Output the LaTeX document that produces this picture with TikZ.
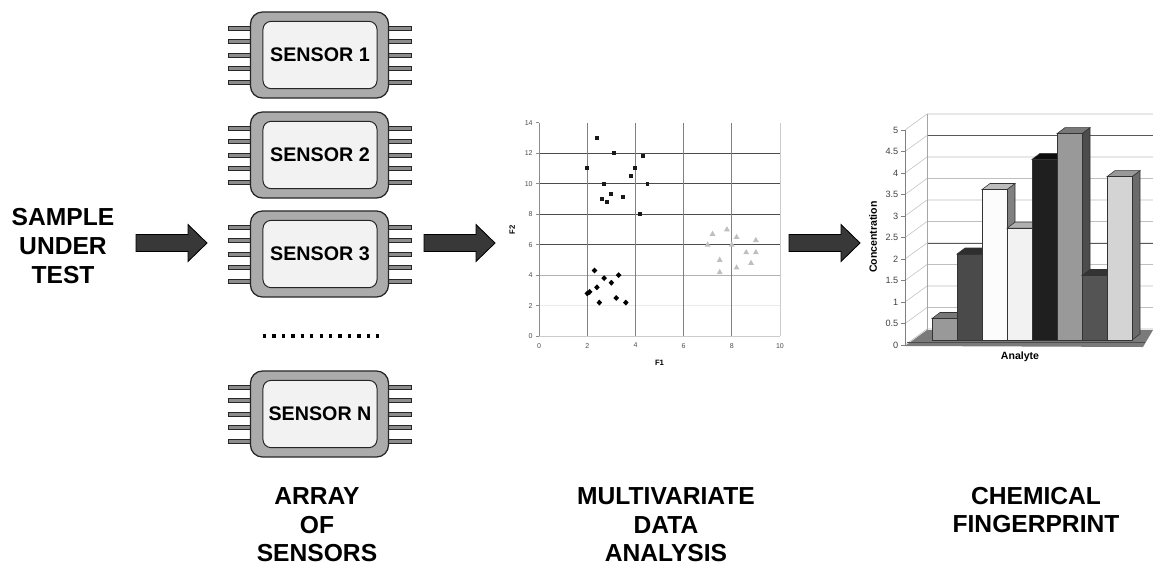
\documentclass[tikz,border=0pt]{standalone}
\usepackage{fontspec}
\setmainfont{Liberation Sans}
\usetikzlibrary{positioning}
\def\blockarrow(#1,#2){\draw[arrowbody] (#1,#2-8.5) -- ++(52,0) -- ++(0,-10) -- ++(19,18.5) -- ++(-19,18.5) -- ++(0,-10) -- ++(-52,0) -- cycle;}

\tikzset{
  leadwire/.style={fill=black!45, draw=black!85, line width=0.5pt},
  chipbody/.style={draw=black!85, fill=black!33, line width=0.9pt, rounded corners=0.3cm, minimum width=3.45cm, minimum height=2.15cm, inner sep=0pt},
  chipface/.style={draw=black!85, fill=black!5, line width=0.7pt, rounded corners=0.2cm, minimum width=2.85cm, minimum height=1.68cm, inner sep=0pt, font=\fontsize{14}{16}\selectfont\bfseries},
  biglabel/.style={align=center, font=\fontsize{17.5}{20.3}\selectfont\bfseries},
  arrowbody/.style={fill=black!78, draw=black, line width=0.6pt},
  ticklabel/.style={font=\fontsize{5}{6}\selectfont, text=black!70, inner sep=1pt},
  charttick/.style={font=\fontsize{6.5}{7}\selectfont, text=black!75, inner sep=1pt, anchor=east},
  axistitle/.style={font=\fontsize{7.5}{8}\selectfont\bfseries, inner sep=0pt},
  barline/.style={draw=black!80, line width=0.4pt}
}

\begin{document}
\begin{tikzpicture}[x=0.025cm, y=-0.025cm]
		\useasboundingbox (0,0) rectangle (1153,568);
		
		%%%%% SAMPLE %%%%%
		\node[biglabel] (sample) at (63,246) {SAMPLE\\UNDER\\TEST};
		\blockarrow(136,243)
		
		%%%%% SENSOR ARRAY %%%%%
		\foreach \y/\n/\t in {55/1/1,155/2/2,254/3/3,414/4/N} {
			\foreach \p in {-27,-13.5,0,13.5,27} {
				\draw[leadwire] (228,\y+\p-2) rectangle (254,\y+\p+2);
				\draw[leadwire] (384,\y+\p-2) rectangle (411,\y+\p+2);
			}
			\node[chipbody] (chip\n) at (319.5,\y) {};
			\node[chipface] (sensor\n) at (320,\y) {SENSOR \t};
		}
		\draw[line width=2.4pt, dash pattern=on 2.4pt off 4.3pt] (263,336) -- (381,336);
		\node[biglabel] (arraylbl) at (317,525) {ARRAY\\OF\\SENSORS};
		\blockarrow(424,243)
		
		%%%%% SCATTER PLOT %%%%%
		\begin{scope}[shift={(13.475cm,-8.4cm)}, x=0.6018cm, y=0.381cm]
			\draw[black!8] (0,2) -- (10,2);
			\draw[black!30] (0,4) -- (10,4);
			\foreach \g in {6,8,10,12} \draw[black!70] (0,\g) -- (10,\g);
			\foreach \g in {2,4,6,8} \draw[black!50] (\g,0) -- (\g,14);
			\draw[black!20] (10,0) -- (10,14);
			\draw[black!20] (0,0) -- (10,0);
			\draw[black!45] (0,0) -- (0,14);
			\foreach \t in {0,2,...,14} {
				\draw[black!45] (-0.12,\t) -- (0,\t);
				\node[ticklabel, anchor=east] (ytick\t) at (-0.2,\t) {\t};
			}
			\foreach \t in {0,2,...,10}
				\node[ticklabel, anchor=north] (xtick\t) at (\t,-0.35) {\t};
			\node[axistitle, font=\fontsize{5.5}{6}\selectfont\bfseries] (f1) at (5,-1.77) {F1};
			\node[axistitle, font=\fontsize{5.5}{6}\selectfont\bfseries, rotate=90] (f2) at (-1.12,6.96) {F2};
			% squares
			\foreach \a/\b in {2.4/13,3.1/12,4.3/11.8,2/11,4/11,3.8/10.5,2.7/10,4.5/10,2.6/9,3/9.3,2.8/8.8,3.5/9.1,4.2/8}
				\fill[black!90] (\a,\b) +(-1.4pt,-1.4pt) rectangle +(1.4pt,1.4pt);
			% diamonds
			\foreach \a/\b in {2.3/4.3,2.7/3.8,3.3/4,2.4/3.2,3/3.5,2/2.8,2.1/2.9,2.5/2.2,3.2/2.5,3.6/2.2}
				\fill[black] (\a,\b) +(0,2.1pt) -- +(2pt,0) -- +(0,-2.1pt) -- +(-2pt,0) -- cycle;
			% triangles
			\foreach \a/\b in {7.2/6.7,7.8/7,8.2/6.5,9/6.3,7/6,8/6,7.5/5,8.6/5.5,9/5.5,8.8/4.8,7.5/4.2,8.2/4.5}
				\fill[black!25] (\a,\b) +(0,2.3pt) -- +(2.1pt,-1.4pt) -- +(-2.1pt,-1.4pt) -- cycle;
		\end{scope}
		\node[biglabel] (mvalbl) at (666,525) {MULTIVARIATE\\DATA\\ANALYSIS};
		\blockarrow(789,243)
		
		%%%%% BAR CHART %%%%%
		\foreach \v [count=\k] in {0,0.5,1,1.5,2,2.5,3,3.5,4,4.5,5} {
			\draw[black!25] (905,345-43*\v) -- (927,329-43*\v) -- (1153,329-43*\v);
			\draw[black!50] (901,345-43*\v) -- (905,345-43*\v);
			\node[charttick] (ctick\k) at (900,345-43*\v) {\v};
		}
		\draw[black!65] (927,243) -- (1153,243);
		\draw[black!65] (927,135.5) -- (1153,135.5);
		\draw[black!35] (927,114) -- (927,330);
		\draw[black!50] (905,130) -- (905,346);
		\fill[black!52] (905,346) -- (927,330) -- (1153,330) -- (1143,347) -- cycle;
		\draw[black!70] (907,342) -- (1145,342);
		\foreach \i/\v/\fc/\tc/\sc in {0/0.5/black!40/black!53/black!65, 1/2.0/black!71/black!82/black!80, 2/3.5/black!1/black!26/black!50, 3/2.6/black!5/black!31/black!53, 4/4.2/black!88/black!95/black!93, 5/4.8/black!40/black!53/black!70, 6/1.5/black!67/black!80/black!77, 7/3.8/black!17/black!40/black!58} {
			\pgfmathsetmacro\L{932+25*\i}
			\pgfmathsetmacro\T{340-43*\v}
			\draw[barline, fill=\sc] (\L+25,340) -- (\L+33,334) -- (\L+33,\T-6) -- (\L+25,\T) -- cycle;
			\draw[barline, fill=\tc] (\L,\T) -- (\L+8,\T-6) -- (\L+33,\T-6) -- (\L+25,\T) -- cycle;
			\draw[barline, fill=\fc] (\L,340) rectangle (\L+25,\T);
		}
		\node[axistitle, rotate=90] (conc) at (873,237) {Concentration};
		\node[axistitle] (analyte) at (1020,357) {Analyte};
		\node[biglabel] (chemlbl) at (1036,510) {CHEMICAL\\FINGERPRINT};
		
\end{tikzpicture}
\end{document}
